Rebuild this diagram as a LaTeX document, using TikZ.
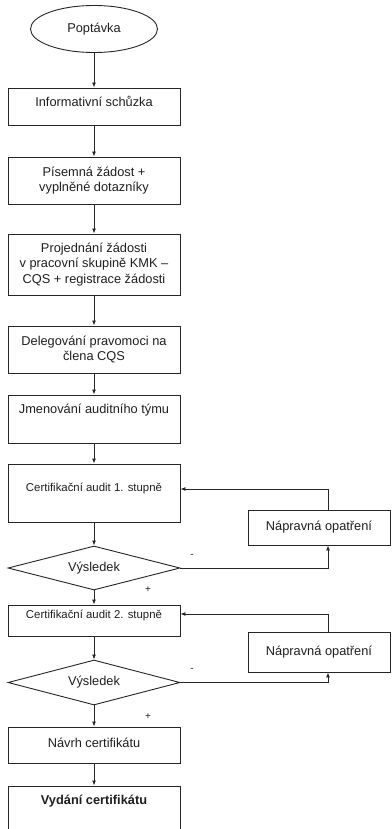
\documentclass[tikz,border=0pt]{standalone}
\usepackage{fontspec}
\setmainfont{Liberation Sans}
\usetikzlibrary{shapes.geometric,arrows.meta}
\begin{document}
\begin{tikzpicture}[x=1pt,y=-1pt,
  every node/.style={font=\fontsize{12.8}{15.5}\selectfont, text=black!88},
  box/.style={draw=black!85, line width=0.9pt, rectangle, inner sep=0pt, minimum width=172pt, align=center},
  txt/.style={inner sep=0pt, align=center},
  smalltxt/.style={font=\fontsize{11.4}{14}\selectfont},
  dia/.style={draw=black!85, line width=0.9pt, diamond, shape aspect=3.9, inner sep=0pt, minimum width=172pt, minimum height=44pt},
  ell/.style={draw=black!85, line width=0.9pt, ellipse, inner sep=0pt, minimum width=127pt, minimum height=47pt},
  nbox/.style={box, minimum width=142pt},
  lbl/.style={inner sep=0pt, font=\fontsize{10}{12}\selectfont},
  arr/.style={draw=black!85, line width=0.9pt, -{Latex[length=5pt,width=4pt]}}]
\useasboundingbox (0,0) rectangle (391,829);
\fill[white] (0,0) rectangle (391,829);
% main column
\node[ell] (e) at (94,29) {Poptávka};
\node[box, minimum height=37pt] (b1) at (94,106.5) {};
\node[txt] (t1) at (94,101) {Informativní schůzka};
\node[box, minimum height=47pt] (b2) at (94,180.5) {Písemná žádost +\\vyplněné dotazníky};
\node[box, minimum height=61pt] (b3) at (94,264.5) {Projednání žádosti\\v pracovní skupině KMK –\\CQS + registrace žádosti};
\node[box, minimum height=47pt] (b4) at (94,349.5) {Delegování pravomoci na\\člena CQS};
\node[box, minimum height=48pt] (b5) at (94,419) {};
\node[txt] (t5) at (94,410) {Jmenování auditního týmu};
\node[box, minimum height=58pt] (b6) at (94,493) {};
\node[txt, smalltxt] (t6) at (94,488) {Certifikační audit 1. stupně};
\node[dia] (d1) at (94,568) {Výsledek};
\node[box, minimum height=31pt] (b7) at (94,620.5) {};
\node[txt, smalltxt] (t7) at (94,615) {Certifikační audit 2. stupně};
\node[dia, minimum height=45pt] (d2) at (94,682.5) {Výsledek};
\node[box, minimum height=36pt] (b8) at (94,745) {};
\node[txt] (t8) at (94,743) {Návrh certifikátu};
\node[box, minimum height=50pt] (b9) at (94,811) {};
\node[txt] (t9) at (94,801) {\textbf{Vydání certifikátu}};
% side boxes
\node[nbox, minimum height=35pt] (n1) at (319,527.5) {Nápravná opatření};
\node[nbox, minimum height=40pt] (n2) at (319,652) {Nápravná opatření};
% main arrows
\draw[arr] (e.south) -- (b1.north);
\draw[arr] (b1.south) -- (b2.north);
\draw[arr] (b2.south) -- (b3.north);
\draw[arr] (b3.south) -- (b4.north);
\draw[arr] (b4.south) -- (b5.north);
\draw[arr] (b5.south) -- (b6.north);
\draw[arr] (b6.south) -- (d1.north);
\draw[arr] (d1.south) -- (b7.north);
\draw[arr] (b7.south) -- (d2.north);
\draw[arr] (d2.south) -- (b8.north);
\draw[arr] (b8.south) -- (b9.north);
% loops
\coordinate (c1) at (328,489);
\draw[arr] (n1.north -| c1) -- (c1) -- (b6.east |- c1);
\draw[arr] (d1.east) -| (n1.south -| c1);
\coordinate (c2) at (328,614);
\draw[arr] (n2.north -| c2) -- (c2) -- (b7.east |- c2);
\draw[arr] (d2.east) -| (n2.south -| c2);
% labels
\node[lbl] (m1) at (192,556) {-};
\node[lbl] (p1) at (148,590) {+};
\node[lbl] (m2) at (192,670) {-};
\node[lbl] (p2) at (148,717) {+};
\end{tikzpicture}
\end{document}
